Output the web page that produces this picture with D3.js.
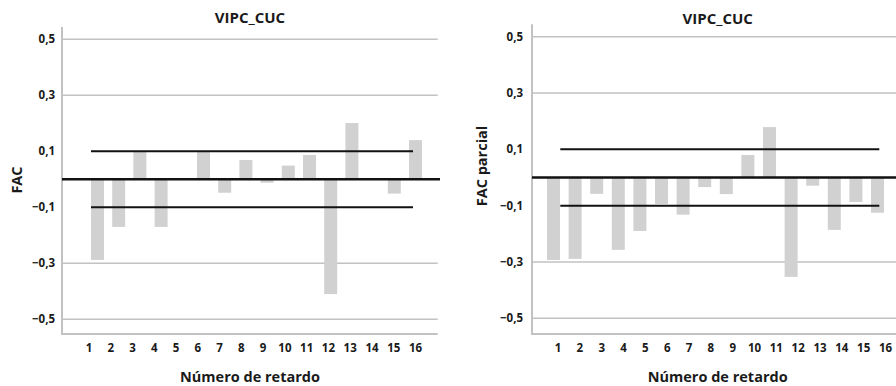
<!DOCTYPE html>
<html>
<head>
<meta charset="utf-8">
<script src="https://cdn.jsdelivr.net/npm/d3@7"></script>
<style>
  html, body { margin: 0; padding: 0; background: #fff; }
  svg { display: block; font-family: "Open Sans", "Noto Sans", sans-serif; }
  .lbl { font-weight: 700; fill: #1a1a1a; }
</style>
</head>
<body>
<svg id="chart" width="896" height="386"></svg>
<script>
// Lags and autocorrelation values
const lags = [1, 2, 3, 4, 5, 6, 7, 8, 9, 10, 11, 12, 13, 14, 15, 16];
const facValues = [-0.288, -0.170, 0.101, -0.170, 0.0, 0.101, -0.048, 0.069,
                   -0.012, 0.049, 0.087, -0.410, 0.201, 0.0, -0.051, 0.140];
const facParcialValues = [-0.293, -0.289, -0.058, -0.257, -0.190, -0.094, -0.132, -0.034,
                          -0.059, 0.080, 0.179, -0.353, -0.029, -0.186, -0.087, -0.125];
// Confidence limits
const confLimits = [0.1, -0.1];
// Y tick values
const yTicks = [0.5, 0.3, 0.1, -0.1, -0.3, -0.5];
const gridValues = [0.5, 0.3, -0.3, -0.5];

const locale = d3.formatLocale({ decimal: ",", thousands: ".", grouping: [3], currency: ["", "€"] });
const fmt = locale.format(".1f");

const svg = d3.select("#chart");

const panels = [
  {
    title: "VIPC_CUC", yTitle: "FAC", values: facValues,
    yRange: [319.3, 39.3], axisX: 62, axisTop: 27, axisBottom: 334,
    barX: [97.5, 415.5], tickX: [89, 415.5], gridRight: 437.7, zeroRight: 440,
    confX: [91, 413], titleX: 250, titleY: 23, yTitleX: 22, yTitleY: 180,
    tickLabelRight: 55
  },
  {
    title: "VIPC_CUC", yTitle: "FAC parcial", values: facParcialValues,
    yRange: [318.3, 36.7], axisX: 532, axisTop: 24.3, axisBottom: 334,
    barX: [553.5, 877.5], tickX: [558, 885.5], gridRight: 896, zeroRight: 896,
    confX: [560.3, 879.3], titleX: 717.7, titleY: 24, yTitleX: 487, yTitleY: 166,
    tickLabelRight: 523
  }
];

const barWidth = 13;

panels.forEach(p => {
  const g = svg.append("g");
  const y = d3.scaleLinear().domain([-0.5, 0.5]).range(p.yRange);
  const x = d3.scaleLinear().domain([1, 16]).range(p.barX);
  const xt = d3.scaleLinear().domain([1, 16]).range(p.tickX);

  // gridlines
  g.selectAll(".grid").data(gridValues).join("line")
    .attr("x1", p.axisX).attr("x2", p.gridRight)
    .attr("y1", d => y(d)).attr("y2", d => y(d))
    .attr("stroke", "#c2c2c2").attr("stroke-width", 1.6);

  // axis frame
  g.append("line")
    .attr("x1", p.axisX).attr("x2", p.axisX)
    .attr("y1", p.axisTop).attr("y2", p.axisBottom)
    .attr("stroke", "#c2c2c2").attr("stroke-width", 2);
  g.append("line")
    .attr("x1", p.axisX - 1).attr("x2", p.gridRight)
    .attr("y1", p.axisBottom).attr("y2", p.axisBottom)
    .attr("stroke", "#c2c2c2").attr("stroke-width", 2);

  // bars
  g.selectAll(".bar").data(lags).join("rect")
    .attr("x", d => x(d) - barWidth / 2)
    .attr("width", barWidth)
    .attr("y", (d, i) => y(Math.max(0, p.values[i])))
    .attr("height", (d, i) => Math.abs(y(p.values[i]) - y(0)))
    .attr("fill", "#d1d1d1");

  // confidence limits
  g.selectAll(".conf").data(confLimits).join("line")
    .attr("x1", p.confX[0]).attr("x2", p.confX[1])
    .attr("y1", d => y(d)).attr("y2", d => y(d))
    .attr("stroke", "#111").attr("stroke-width", 2);

  // zero line
  g.append("line")
    .attr("x1", p.axisX).attr("x2", p.zeroRight)
    .attr("y1", y(0)).attr("y2", y(0))
    .attr("stroke", "#111").attr("stroke-width", 2.4);

  // y tick labels
  g.selectAll(".ytick").data(yTicks).join("text")
    .attr("class", "lbl")
    .attr("x", p.tickLabelRight).attr("y", d => y(d))
    .attr("dy", "0.35em")
    .attr("text-anchor", "end")
    .style("font-size", "11.5px")
    .text(d => fmt(d));

  // x tick labels
  g.selectAll(".xtick").data(lags).join("text")
    .attr("class", "lbl")
    .attr("x", d => xt(d)).attr("y", 351.5)
    .attr("text-anchor", "middle")
    .style("font-size", "11.5px")
    .text(d => d);

  // title
  g.append("text").attr("class", "lbl")
    .attr("x", p.titleX).attr("y", p.titleY)
    .attr("text-anchor", "middle")
    .style("font-size", "15px")
    .text(p.title);

  // y axis title
  g.append("text").attr("class", "lbl")
    .attr("transform", `translate(${p.yTitleX},${p.yTitleY}) rotate(-90)`)
    .attr("text-anchor", "middle")
    .style("font-size", "14.5px")
    .text(p.yTitle);

  // x axis title
  g.append("text").attr("class", "lbl")
    .attr("x", p.titleX).attr("y", 381.5)
    .attr("text-anchor", "middle")
    .style("font-size", "14.5px")
    .text("Número de retardo");
});
</script>
</body>
</html>
